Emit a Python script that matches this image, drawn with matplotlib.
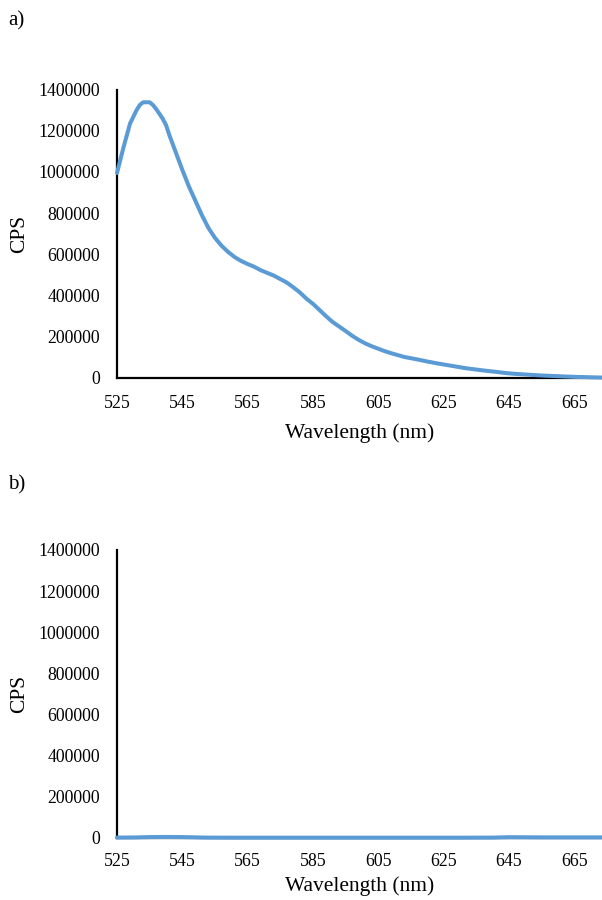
import matplotlib
matplotlib.use("Agg")
import matplotlib.pyplot as plt
from matplotlib.ticker import FixedLocator

plt.rcParams['font.family'] = ['Liberation Serif', 'DejaVu Serif']

# Emission spectrum, panel a
wl_a = [525, 527, 529, 531, 532, 533, 535, 536, 537, 538, 539, 540, 541, 543, 545,
        547, 549, 551, 553, 555, 557, 559, 561, 563, 565, 567, 569, 571, 573, 575,
        577, 579, 581, 583, 585, 587, 589, 591, 593, 595, 597, 599, 601, 603, 605,
        607, 609, 611, 613, 615, 617, 620, 623, 626, 629, 632, 635, 638, 641, 644,
        647, 650, 653, 656, 659, 662, 665, 668, 671, 674]
cps_a = [995000, 1120000, 1235000, 1300000, 1325000, 1338000, 1338000, 1325000,
         1305000, 1282000, 1258000, 1228000, 1180000, 1095000, 1010000,
         930000, 860000, 790000, 728000, 680000, 642000, 612000, 587000, 568000,
         553000, 540000, 523000, 510000, 497000, 480000, 463000, 440000, 415000,
         385000, 360000, 330000, 300000, 272000, 250000, 228000, 205000, 185000,
         168000, 154000, 142000, 130000, 120000, 111000, 102000, 96000, 90000,
         80000, 71000, 63000, 55000, 47000, 41000, 35000, 30000, 24000,
         20000, 17000, 14000, 11500, 9500, 7500, 5500, 4500, 3000, 2000]

# Emission spectrum, panel b
wl_b = [525, 530, 535, 540, 545, 548, 552, 560, 570, 580, 590, 600, 610, 620,
        630, 640, 645, 650, 655, 660, 665, 670, 674]
cps_b = [2000, 2500, 4500, 5000, 4500, 3500, 2000, 1500, 1500, 1500, 1500, 1500,
         1500, 1500, 1500, 2000, 4000, 3500, 3000, 3000, 3000, 3000, 3000]

x_ticks = [525, 545, 565, 585, 605, 625, 645, 665]
y_ticks = [0, 200000, 400000, 600000, 800000, 1000000, 1200000, 1400000]
x_max = 673.5

line_color = '#5B9BD5'

fig = plt.figure(figsize=(6.02, 9.0), dpi=100)

W, H = 602.0, 900.0
left = 117 / W
panels = [
    (wl_a, cps_a, 89.5, 378.0, 'a)', 21, 7.5, 12.5),
    (wl_b, cps_b, 550.0, 838.0, 'b)', 485, 4.0, 11.0),
]

for wl, cps, top_px, bot_px, tag, tag_y, xlab_pad, xtick_pad in panels:
    ax = fig.add_axes([left, 1 - bot_px / H, 1 - left, (bot_px - top_px) / H])
    ax.plot(wl, cps, color=line_color, lw=2.9, solid_capstyle='round',
            clip_on=False, zorder=5)
    ax.set_xlim(525, x_max)
    ax.set_ylim(0, 1400000)
    ax.xaxis.set_major_locator(FixedLocator(x_ticks))
    ax.yaxis.set_major_locator(FixedLocator(y_ticks))
    ax.set_yticklabels([str(v) for v in y_ticks])
    ax.set_xticklabels([str(v) for v in x_ticks])
    ax.tick_params(axis='both', length=0, labelsize=12.8)
    ax.tick_params(axis='x', pad=xtick_pad)
    ax.tick_params(axis='y', pad=12)
    for s in ['top', 'right']:
        ax.spines[s].set_visible(False)
    for s in ['left', 'bottom']:
        ax.spines[s].set_linewidth(1.6)
        ax.spines[s].set_color('black')
    ax.set_xlabel('Wavelength (nm)', fontsize=15.5, labelpad=xlab_pad)
    ax.set_ylabel('CPS', fontsize=15.5)
    ax.yaxis.set_label_coords(-(117 - 29) / (W - 117), 0.5)
    fig.text(8 / W, 1 - tag_y / H, tag, fontsize=15, va='center', ha='left')

fig.savefig('out.png', dpi=100)
